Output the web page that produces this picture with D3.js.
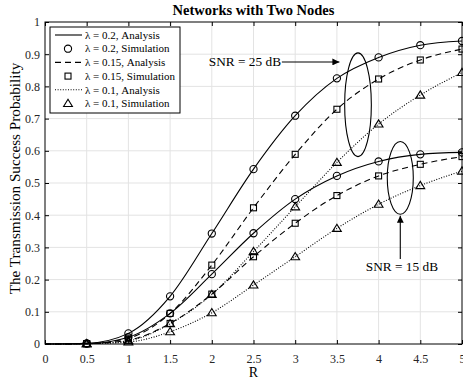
<!DOCTYPE html>
<head>
<style>
  body { margin: 0; background: #fff; }
  text { font-family: "Liberation Serif", "Times New Roman", serif; fill: #000; }
  .grid line { stroke: #e3e3e3; stroke-width: 1; }
  .tick-label { font-size: 12px; fill: #262626; }
</style>
</head>
<body>
<svg width="463" height="381"></svg>
<script src="https://d3js.org/d3.v7.min.js"></script>
<script>

// x values (R) and the six curves
var R = [0, 0.5, 1, 1.5, 2, 2.5, 3, 3.5, 4, 4.5, 5];
var snr25_l02  = [0, 0.002, 0.033, 0.148, 0.343, 0.543, 0.709, 0.825, 0.890, 0.928, 0.941];
var snr25_l015 = [0, 0.001, 0.018, 0.095, 0.245, 0.423, 0.589, 0.729, 0.823, 0.882, 0.916];
var snr25_l01  = [0, 0.001, 0.010, 0.063, 0.154, 0.287, 0.426, 0.564, 0.683, 0.773, 0.843];
var snr15_l02  = [0, 0.001, 0.021, 0.095, 0.217, 0.344, 0.450, 0.522, 0.567, 0.589, 0.595];
var snr15_l015 = [0, 0.001, 0.012, 0.064, 0.155, 0.271, 0.375, 0.461, 0.522, 0.558, 0.582];
var snr15_l01  = [0, 0.001, 0.006, 0.038, 0.097, 0.183, 0.271, 0.359, 0.434, 0.492, 0.537];

var xTicks = [0, 0.5, 1, 1.5, 2, 2.5, 3, 3.5, 4, 4.5, 5];
var yTicks = [0, 0.1, 0.2, 0.3, 0.4, 0.5, 0.6, 0.7, 0.8, 0.9, 1];

var legendLabels = ["\u03bb = 0.2, Analysis", "\u03bb = 0.2, Simulation",
                    "\u03bb = 0.15, Analysis", "\u03bb = 0.15, Simulation",
                    "\u03bb = 0.1, Analysis", "\u03bb = 0.1, Simulation"];

var styles = {
  l02:  { dash: null,  marker: "circle" },
  l015: { dash: "6,4", marker: "square" },
  l01:  { dash: "1,1.6", marker: "triangle" }
};

var series = [
  { key: "l02",  v: snr25_l02 },
  { key: "l015", v: snr25_l015 },
  { key: "l01",  v: snr25_l01 },
  { key: "l02",  v: snr15_l02 },
  { key: "l015", v: snr15_l015 },
  { key: "l01",  v: snr15_l01 }
];

var margin = { top: 22, right: 1, bottom: 37, left: 45 };
var svg = d3.select("svg");
var W = +svg.attr("width") - margin.left - margin.right;
var H = +svg.attr("height") - margin.top - margin.bottom;
var g = svg.append("g").attr("transform", "translate(" + margin.left + "," + margin.top + ")");

var x = d3.scaleLinear().domain([0, 5]).range([0, W]);
var y = d3.scaleLinear().domain([0, 1]).range([H, 0]);

// grid
var grid = g.append("g").attr("class", "grid");
grid.selectAll(".gx").data(xTicks.slice(1, -1)).enter().append("line")
    .attr("x1", d => x(d)).attr("x2", d => x(d)).attr("y1", 0).attr("y2", H);
grid.selectAll(".gy").data(yTicks.slice(1, -1)).enter().append("line")
    .attr("y1", d => y(d)).attr("y2", d => y(d)).attr("x1", 0).attr("x2", W);

// ticks on all four sides, pointing inward
var axB = g.append("g").attr("transform", "translate(0," + H + ")")
    .call(d3.axisBottom(x).tickValues(xTicks).tickSizeInner(-4).tickSizeOuter(0).tickPadding(10).tickFormat(d3.format("")));
var axT = g.append("g")
    .call(d3.axisTop(x).tickValues(xTicks).tickSizeInner(-4).tickSizeOuter(0).tickFormat(""));
var axL = g.append("g")
    .call(d3.axisLeft(y).tickValues(yTicks).tickSizeInner(-4).tickSizeOuter(0).tickPadding(5).tickFormat(d3.format("")));
var axR = g.append("g").attr("transform", "translate(" + W + ",0)")
    .call(d3.axisRight(y).tickValues(yTicks).tickSizeInner(-4).tickSizeOuter(0).tickFormat(""));
[axB, axT, axL, axR].forEach(a => {
  a.select(".domain").remove();
  a.selectAll("text").attr("class", "tick-label").style("font-family", null).style("font-size", null);
  a.selectAll("line").attr("stroke", "#000");
});
g.append("rect").attr("width", W).attr("height", H).attr("fill", "none").attr("stroke", "#000").attr("stroke-width", 1);

// curves
var line = d3.line().x((d, i) => x(R[i])).y(d => y(d)).curve(d3.curveMonotoneX);
series.forEach(s => {
  g.append("path").attr("d", line(s.v)).attr("fill", "none").attr("stroke", "#000")
    .attr("stroke-width", 1.1).attr("stroke-dasharray", styles[s.key].dash);
});

function drawMarker(sel, type, cx, cy) {
  if (type === "circle") {
    sel.append("circle").attr("cx", cx).attr("cy", cy).attr("r", 3.6);
  } else if (type === "square") {
    sel.append("rect").attr("x", cx - 3).attr("y", cy - 3).attr("width", 6).attr("height", 6);
  } else {
    sel.append("path").attr("d", "M" + cx + "," + (cy - 4.2) + "L" + (cx + 4.4) + "," + (cy + 3) + "L" + (cx - 4.4) + "," + (cy + 3) + "Z");
  }
}

var marks = g.append("g").attr("fill", "none").attr("stroke", "#000").attr("stroke-width", 1.1);
series.forEach(s => {
  s.v.forEach((v, i) => {
    if (i === 0) return;
    drawMarker(marks, styles[s.key].marker, x(R[i]), y(v));
  });
});

// annotations
var ann = g.append("g").attr("fill", "none").attr("stroke", "#000").attr("stroke-width", 1.1);
ann.append("ellipse").attr("cx", x(3.753)).attr("cy", y(0.743))
   .attr("rx", x(0.16) - x(0)).attr("ry", y(0) - y(0.161));
ann.append("ellipse").attr("cx", x(4.26)).attr("cy", y(0.516))
   .attr("rx", x(0.156) - x(0)).attr("ry", y(0) - y(0.113));

svg.append("defs").append("marker").attr("id", "arr").attr("viewBox", "0 0 10 10")
   .attr("refX", 10).attr("refY", 5).attr("markerWidth", 10).attr("markerHeight", 7)
   .attr("markerUnits", "userSpaceOnUse").attr("orient", "auto")
   .append("path").attr("d", "M0,0L10,5L0,10Z").attr("fill", "#000");

ann.append("line").attr("x1", x(2.84)).attr("y1", y(0.876)).attr("x2", x(3.53)).attr("y2", y(0.876))
   .attr("marker-end", "url(#arr)");
ann.append("line").attr("x1", x(4.26)).attr("y1", y(0.264)).attr("x2", x(4.26)).attr("y2", y(0.398))
   .attr("marker-end", "url(#arr)");

g.append("text").attr("x", x(2.83)).attr("y", y(0.862)).attr("text-anchor", "end")
   .style("font-size", "13.3px").text("SNR = 25 dB");
g.append("text").attr("x", x(4.28)).attr("y", y(0.227)).attr("text-anchor", "middle")
   .style("font-size", "13.3px").text("SNR = 15 dB");

// legend
var lg = g.append("g").attr("transform", "translate(5,5)");
lg.append("rect").attr("width", 130).attr("height", 86).attr("fill", "#fff").attr("stroke", "#000").attr("stroke-width", 1);
legendLabels.forEach((t, i) => {
  var yy = 8 + i * 13.7;
  var st = styles[["l02", "l015", "l01"][Math.floor(i / 2)]];
  if (i % 2 === 0) {
    lg.append("line").attr("x1", 5).attr("x2", 32).attr("y1", yy).attr("y2", yy)
      .attr("stroke", "#000").attr("stroke-width", 1.1).attr("stroke-dasharray", st.dash);
  } else {
    var mg = lg.append("g").attr("fill", "none").attr("stroke", "#000").attr("stroke-width", 1.1);
    drawMarker(mg, st.marker, 18, yy);
  }
  lg.append("text").attr("x", 35).attr("y", yy + 3.7).style("font-size", "11px").text(t);
});

// titles
svg.append("text").attr("x", margin.left + W / 2).attr("y", 15).attr("text-anchor", "middle")
   .style("font-size", "14.5px").style("font-weight", "bold").text("Networks with Two Nodes");
svg.append("text").attr("x", margin.left + W / 2).attr("y", 377).attr("text-anchor", "middle")
   .style("font-size", "14px").text("R");
svg.append("text").attr("transform", "translate(20,178.5) rotate(-90)")
   .attr("text-anchor", "middle").style("font-size", "15.2px").text("The Transmission Success Probability");

</script>
</body>
